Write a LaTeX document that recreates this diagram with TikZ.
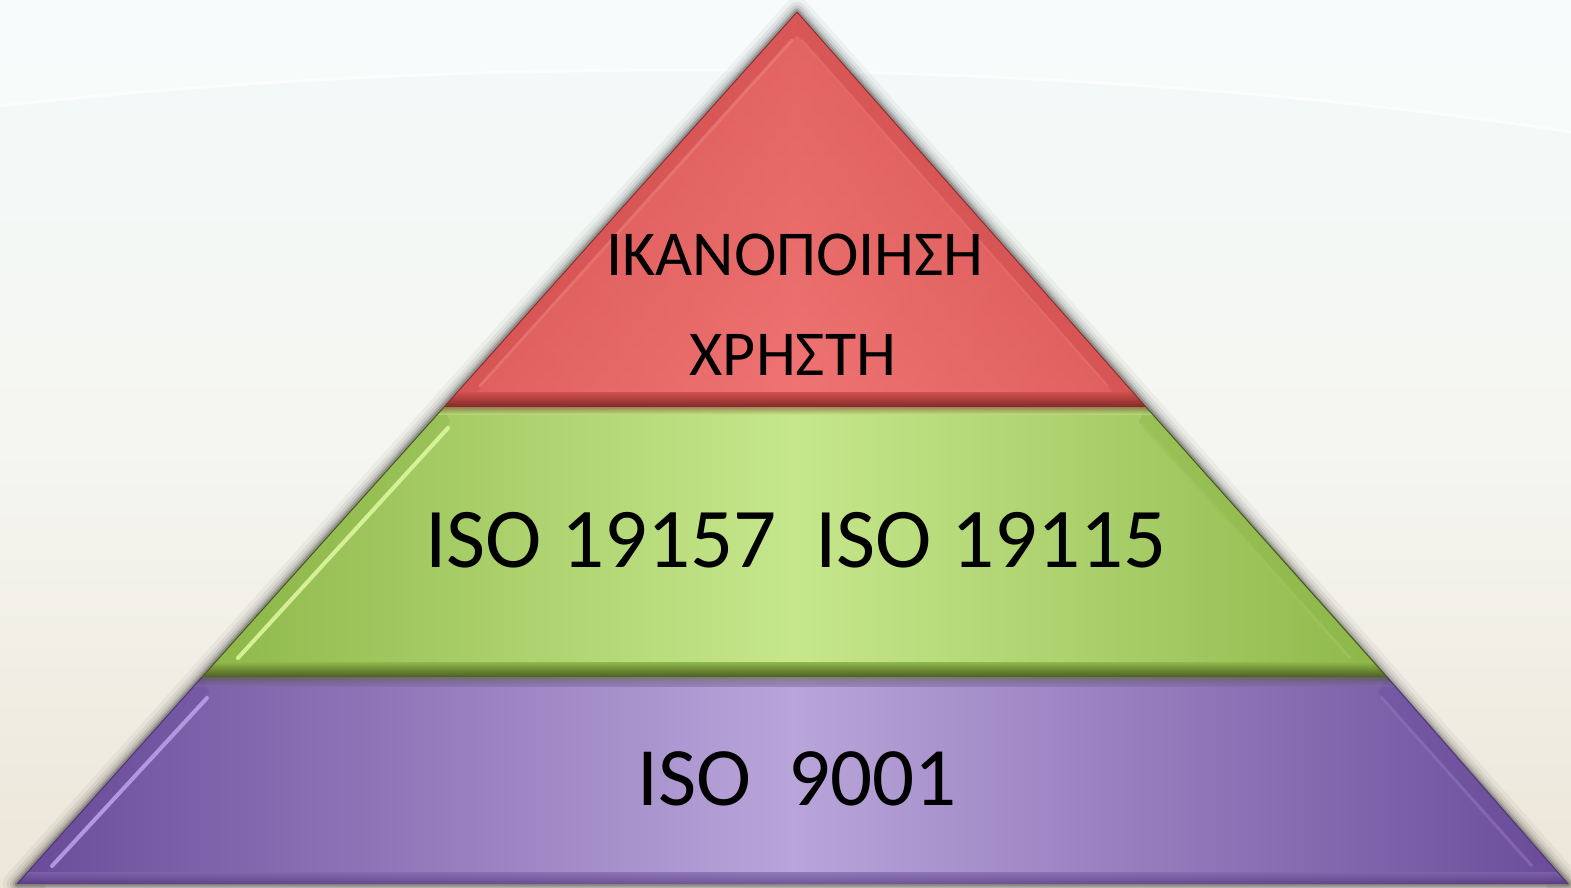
\documentclass[tikz,border=0pt]{standalone}
\usepackage{fontspec}
\setmainfont{Carlito}
\definecolor{bgtop}{HTML}{F3FAFA}
\definecolor{bgmid}{HTML}{F5F6F1}
\definecolor{bgbot}{HTML}{ECE6D8}
\definecolor{redL}{HTML}{EF7473}
\definecolor{redD}{HTML}{D24F4E}
\definecolor{redDD}{HTML}{7A2828}
\definecolor{redHi}{HTML}{F79A98}
\definecolor{gnL}{HTML}{C6E78C}
\definecolor{gnD}{HTML}{8EB84A}
\definecolor{gnDD}{HTML}{48581E}
\definecolor{gnHi}{HTML}{DDF69C}
\definecolor{ppL}{HTML}{B9A5DA}
\definecolor{ppD}{HTML}{6A4C9A}
\definecolor{ppDD}{HTML}{4E3478}
\definecolor{ppHi}{HTML}{B8A0E6}
\tikzset{
  lbl/.style={anchor=base, inner sep=0pt, text=black},
  streak/.style={line width=4pt, line cap=round},
}
\begin{document}
\begin{tikzpicture}[x=1pt,y=-1pt]
\useasboundingbox (0,0) rectangle (1571,888);
% background
\shade[top color=bgtop, bottom color=bgbot, middle color=bgmid] (0,0) rectangle (1571,888);
\fill[white, opacity=0.35] (0,0) -- (0,106) .. controls (500,50) and (1100,60) .. (1571,132) -- (1571,0) -- cycle;
\draw[white, line width=3pt, opacity=0.7] (0,106) .. controls (500,50) and (1100,60) .. (1571,132);
\fill[white!55!bgbot] (45,885) rectangle (1547,888);

% key points
\coordinate (A) at (797,12);
\coordinate (L1) at (444,407);
\coordinate (R1) at (1146,407);
\coordinate (L2) at (202,677);
\coordinate (R2) at (1387,677);
\coordinate (L3) at (17,884);
\coordinate (R3) at (1568,884);

% glow / shadow
\foreach \w/\o in {28/0.04,20/0.06,14/0.08,9/0.12,5/0.18}
  \draw[black, opacity=\o, line width=\w pt, line join=round] (A) -- (R3) -- (L3) -- cycle;

% ---------- red layer ----------
\shade[left color=redD, right color=redD, middle color=redL] (A) -- (R1) -- (L1) -- cycle;
\shade[top color=redD, bottom color=redL, opacity=0.45] (A) -- (R1) -- (L1) -- cycle;
\fill[redD, opacity=0.55] (A) -- (L1) -- (477,392) -- (797,35) -- cycle;
\fill[redD, opacity=0.6] (A) -- (R1) -- (1113,392) -- (797,35) -- cycle;
\draw[redHi, line width=3pt, line cap=round, opacity=0.4] (792,40) -- (480,386);
\draw[redHi, line width=2pt, opacity=0.25] (802,40) -- (1108,386);
\begin{scope}
  \clip (A) -- (R1) -- (L1) -- cycle;
  \shade[top color=redD, bottom color=redDD] (0,392) rectangle (1571,408);
\end{scope}
\draw[redDD!80!redD, line width=1pt] (A) -- (L1);
\draw[redDD!80!redD, line width=1pt] (A) -- (R1);

% ---------- green layer ----------
\shade[left color=gnD, right color=gnD, middle color=gnL] (L1) -- (R1) -- (R2) -- (L2) -- cycle;
\fill[gnD, opacity=0.45] (L1) -- (L2) -- (236,662) -- (450,422) -- cycle;
\fill[gnD, opacity=0.5] (R1) -- (R2) -- (1352,662) -- (1139,422) -- cycle;
\draw[gnHi, streak, opacity=0.9] (448,428) -- (238,658);
\draw[gnD!70!gnL, line width=3pt, opacity=0.7] (1142,425) -- (1350,658);
\begin{scope}
  \clip (L1) -- (R1) -- (R2) -- (L2) -- cycle;
  \shade[top color=redDD, bottom color=gnL!80!gnD, opacity=0.6] (0,405) rectangle (1571,414);
  \shade[top color=gnD, bottom color=gnDD] (0,662) rectangle (1571,678);
\end{scope}
\draw[gnDD, line width=1pt] (L1) -- (L2);
\draw[gnDD, line width=1pt] (R1) -- (R2);

% ---------- purple layer ----------
\shade[left color=ppD, right color=ppD, middle color=ppL] (L2) -- (R2) -- (R3) -- (L3) -- cycle;
\fill[ppD, opacity=0.35] (L2) -- (L3) -- (50,869) -- (209,692) -- cycle;
\fill[ppD, opacity=0.4] (R2) -- (R3) -- (1535,869) -- (1378,692) -- cycle;
\draw[ppHi, streak, opacity=0.9] (207,698) -- (52,866);
\draw[ppD!60!ppL, line width=3pt, opacity=0.7] (1381,697) -- (1532,866);
\begin{scope}
  \clip (L2) -- (R2) -- (R3) -- (L3) -- cycle;
  \shade[top color=gnDD, bottom color=ppD!70!ppL, opacity=0.5] (0,676) rectangle (1571,686);
  \shade[top color=ppD!70!ppL, bottom color=ppDD, opacity=0.7] (0,872) rectangle (1571,885);
\end{scope}
\draw[ppDD, line width=1pt] (L2) -- (L3);
\draw[ppDD, line width=1pt] (R2) -- (R3);

% ---------- labels ----------
\node[lbl, font=\fontsize{64}{78}\selectfont] (t1a) at (795,275) {ΙΚΑΝΟΠΟΙΗΣΗ};
\node[lbl, font=\fontsize{64}{78}\selectfont] (t1b) at (793,375) {ΧΡΗΣΤΗ};
\node[lbl, font=\fontsize{85}{100}\selectfont] (t2) at (796,567) {ISO 19157\ \ ISO 19115};
\node[lbl, font=\fontsize{83}{100}\selectfont] (t3) at (797,805) {ISO\ \ 9001};
\end{tikzpicture}
\end{document}
